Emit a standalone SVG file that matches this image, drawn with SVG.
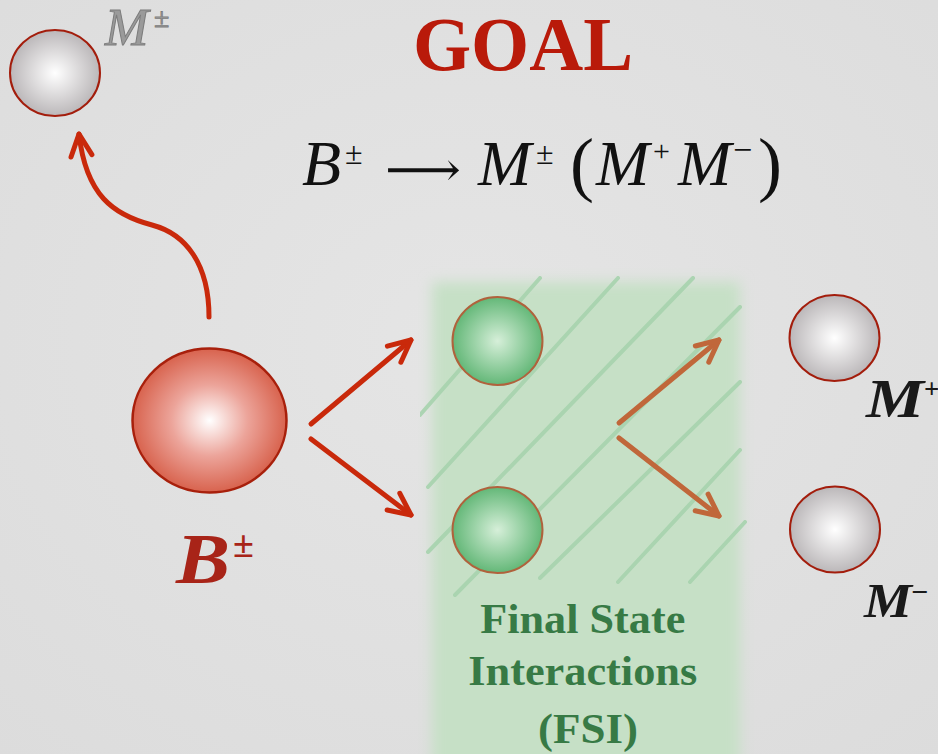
<svg xmlns="http://www.w3.org/2000/svg" width="938" height="754" viewBox="0 0 938 754">
<defs>
<style>
.serif{font-family:"Liberation Serif","Times New Roman",serif}
.it{font-style:italic}
.hatch{stroke:#a7d3ae;stroke-width:4;stroke-linecap:round;opacity:0.9}
.red-arrow{fill:none;stroke:#c9290b;stroke-width:5;stroke-linecap:round}
.org-arrow{fill:none;stroke:#c0673a;stroke-width:5;stroke-linecap:round}
.ball-gray{fill:url(#gGray);stroke:#a31d0c;stroke-width:2}
.ball-green{fill:url(#gGreen);stroke:#b0623c;stroke-width:2}
</style>
<radialGradient id="bg" cx="50%" cy="45%" r="75%">
<stop offset="0" stop-color="#e5e5e5"/>
<stop offset="1" stop-color="#dcdcdc"/>
</radialGradient>
<radialGradient id="gGray" cx="50%" cy="50%" r="55%">
<stop offset="0" stop-color="#ffffff"/>
<stop offset="1" stop-color="#b4b0b2"/>
</radialGradient>
<radialGradient id="gGreen" cx="50%" cy="50%" r="55%">
<stop offset="0" stop-color="#d6efd9"/>
<stop offset="1" stop-color="#58b26e"/>
</radialGradient>
<radialGradient id="gRed" cx="50%" cy="50%" r="55%">
<stop offset="0" stop-color="#ffffff"/>
<stop offset="0.45" stop-color="#eca49a"/>
<stop offset="1" stop-color="#d4563f"/>
</radialGradient>
<filter id="soft" x="-10%" y="-10%" width="120%" height="120%">
<feGaussianBlur stdDeviation="7"/>
</filter>
<clipPath id="fsiClip"><rect x="420" y="276" width="330" height="322"/></clipPath>
<marker id="mRed" viewBox="-28 -18 32 36" refX="0" refY="0" markerUnits="userSpaceOnUse" markerWidth="32" markerHeight="36" orient="auto">
<path d="M-22,-10.5 L0,0 L-22,10.5" fill="none" stroke="#c9290b" stroke-width="5" stroke-linecap="round" stroke-linejoin="round"/>
</marker>
<marker id="mOrg" viewBox="-28 -18 32 36" refX="0" refY="0" markerUnits="userSpaceOnUse" markerWidth="32" markerHeight="36" orient="auto">
<path d="M-22,-10.5 L0,0 L-22,10.5" fill="none" stroke="#c0673a" stroke-width="5" stroke-linecap="round" stroke-linejoin="round"/>
</marker>
</defs>

<rect width="938" height="754" fill="url(#bg)"/>

<g id="fsi-region">
<rect x="432" y="282" width="308" height="490" fill="#c6e0c6" filter="url(#soft)"/>
<g clip-path="url(#fsiClip)">
<line class="hatch" x1="420" y1="415" x2="540" y2="278"/>
<line class="hatch" x1="428" y1="487" x2="618" y2="278"/>
<line class="hatch" x1="428" y1="552" x2="693" y2="278"/>
<line class="hatch" x1="455" y1="595" x2="740" y2="307"/>
<line class="hatch" x1="540" y1="578" x2="740" y2="382"/>
<line class="hatch" x1="618" y1="582" x2="740" y2="450"/>
<line class="hatch" x1="690" y1="582" x2="745" y2="522"/>
</g>
<text class="serif" font-weight="bold" font-size="42" fill="#377a45" text-anchor="middle">
<tspan x="588" y="633" textLength="205" lengthAdjust="spacingAndGlyphs">Final State</tspan>
<tspan x="588" y="685" textLength="229" lengthAdjust="spacingAndGlyphs">Interactions</tspan>
<tspan x="588" y="743" textLength="100" lengthAdjust="spacingAndGlyphs">(FSI)</tspan>
</text>
</g>

<g id="title">
<text class="serif" x="523" y="70" font-size="76" font-weight="bold" fill="#b91a0a" text-anchor="middle" textLength="220" lengthAdjust="spacingAndGlyphs">GOAL</text>
</g>

<g id="formula" class="serif" fill="#111">
<text class="it" x="302" y="185" font-size="64">B</text>
<text x="345" y="164" font-size="32">±</text>
<text x="385" y="186" font-size="48" font-family="DejaVu Serif, serif" textLength="76" lengthAdjust="spacingAndGlyphs">⟶</text>
<text class="it" x="478" y="185" font-size="64">M</text>
<text x="536" y="164" font-size="32">±</text>
<text x="570" y="188" font-size="72">(</text>
<text class="it" x="596" y="185" font-size="64">M</text>
<text x="653" y="161" font-size="30">+</text>
<text class="it" x="678" y="185" font-size="64">M</text>
<text x="733" y="161" font-size="34">−</text>
<text x="758" y="188" font-size="72">)</text>
</g>

<g id="connectors">
<path class="red-arrow" d="M209,317 C209,264 186,234 152,225 C114,215 86,196 79,134" marker-end="url(#mRed)"/>
<line class="red-arrow" x1="311" y1="424" x2="411" y2="340" marker-end="url(#mRed)"/>
<line class="red-arrow" x1="311" y1="439" x2="411" y2="515" marker-end="url(#mRed)"/>
<line class="org-arrow" x1="619" y1="423" x2="719" y2="340" marker-end="url(#mOrg)"/>
<line class="org-arrow" x1="619" y1="438" x2="719" y2="516" marker-end="url(#mOrg)"/>
</g>

<g id="node-M-top">
<ellipse class="ball-gray" cx="55" cy="73" rx="45" ry="43"/>
<text class="serif it" x="105" y="45" font-size="52" fill="#9a9a9a" stroke="#7c7c7c" stroke-width="1">M</text>
<text class="serif" x="154" y="27" font-size="28" fill="#9a9a9a" stroke="#7c7c7c" stroke-width="0.8">±</text>
</g>

<g id="node-B">
<ellipse cx="209.5" cy="420.5" rx="77" ry="72" fill="url(#gRed)" stroke="#a8200c" stroke-width="2.5"/>
<text class="serif it" x="176" y="583" font-size="72" font-weight="bold" fill="#a82418" textLength="54" lengthAdjust="spacingAndGlyphs">B</text>
<text class="serif" x="233" y="557" font-size="38" font-weight="bold" fill="#a82418">±</text>
</g>

<g id="node-G1">
<ellipse class="ball-green" cx="497.5" cy="341" rx="45" ry="44"/>
</g>
<g id="node-G2">
<ellipse class="ball-green" cx="497.5" cy="530" rx="45" ry="43"/>
</g>

<g id="node-Mplus">
<ellipse class="ball-gray" cx="834.5" cy="338" rx="45" ry="43"/>
<text class="serif it" x="866" y="417" font-size="54" font-weight="bold" fill="#1a1a1a" textLength="58" lengthAdjust="spacingAndGlyphs">M</text>
<text class="serif" x="924" y="398" font-size="27" font-weight="bold" fill="#1a1a1a">+</text>
</g>

<g id="node-Mminus">
<ellipse class="ball-gray" cx="835" cy="529.5" rx="45" ry="43"/>
<text class="serif it" x="864" y="617" font-size="48" font-weight="bold" fill="#1a1a1a" textLength="48" lengthAdjust="spacingAndGlyphs">M</text>
<text class="serif" x="911" y="602" font-size="30" font-weight="bold" fill="#1a1a1a">−</text>
</g>
</svg>
